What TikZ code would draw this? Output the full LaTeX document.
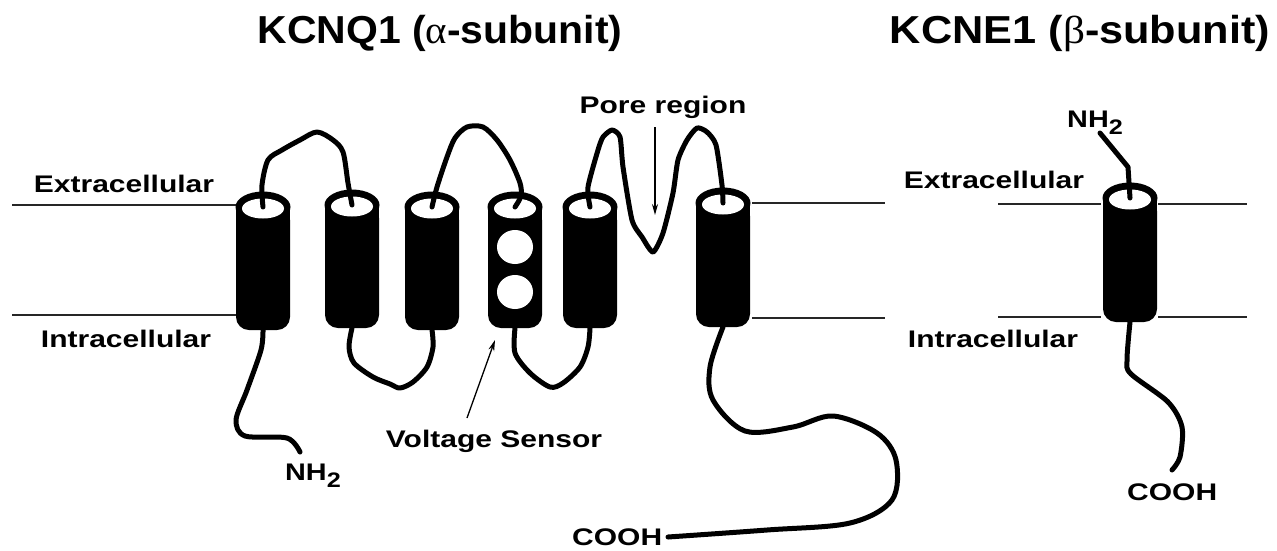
\documentclass[tikz,border=0pt]{standalone}
\usepackage{fontspec}
\setmainfont{Liberation Sans}
\newfontfamily\grk{Liberation Serif}
\usetikzlibrary{arrows.meta}
\newcommand\sx[2]{\scalebox{#1}[1]{#2}}
\newcommand\hlx[4]{%
  \fill[black,rounded corners=13pt] (#2-27,#3) rectangle (#2+27,#4);
  \fill[black] (#2-27,#3) rectangle (#2+27,#3+20);
  \fill[black] (#2,#3) ellipse [x radius=27.5pt, y radius=15.5pt];
  \fill[white] (#2,#3+1.5) ellipse [x radius=21pt, y radius=10pt];
  \coordinate (#1t) at (#2,#3);
  \coordinate (#1b) at (#2,#4);
}
\tikzset{
  chain/.style={line width=5pt, line cap=round, line join=round},
  memb/.style={line width=2pt, draw=black!85},
  lbl/.style={inner sep=0pt, font=\bfseries\fontsize{24}{28}\selectfont},
  ttl/.style={inner sep=0pt, font=\bfseries\fontsize{39}{44}\selectfont},
  pointer/.style={line width=1.3pt, -{Stealth[length=11pt,width=6pt]}},
}
\newcommand\nhtwo{NH\raisebox{-0.3em}{\fontsize{21}{22}\selectfont 2}}
\begin{document}
\begin{tikzpicture}[x=1pt,y=-1pt]
\useasboundingbox (0,0) rectangle (1277,550);
% titles
\node[ttl, anchor=base] (t1) at (440,43) {\sx{1.05}{KCNQ1 ({\grk\mdseries α}-subunit)}};
\node[ttl, anchor=base] (t2) at (1080,43) {\sx{1.11}{KCNE1 ({\grk\mdseries β}-subunit)}};
% membranes
\draw[memb] (12,205) -- (237,205);
\draw[memb] (12,315) -- (237,315);
\draw[memb] (752,203) -- (885,203);
\draw[memb] (752,318) -- (885,318);
\draw[memb] (998,204) -- (1101,204);
\draw[memb] (1158,204) -- (1247,204);
\draw[memb] (998,317) -- (1101,317);
\draw[memb] (1158,317) -- (1247,317);
% helices
\hlx{h1}{263}{207}{330}
\hlx{h2}{352}{205}{328}
\hlx{h3}{432}{207}{330}
\hlx{h4}{515}{207}{328}
\hlx{h5}{590}{207}{328}
\hlx{h6}{723}{203}{327}
\hlx{e1}{1130}{198}{322}
% voltage sensor charges
\fill[white] (515,247) ellipse [x radius=18pt, y radius=17pt];
\fill[white] (515,292) ellipse [x radius=18pt, y radius=17pt];
% extracellular loops
\draw[chain] plot[smooth, tension=0.5] coordinates {(h1t) (262,185) (268,160) (282,150) (300,140) (317,132) (333,140) (343,152) (348,183) (h2t)};
\draw[chain] plot[smooth, tension=0.5] coordinates {(h3t) (437,187) (447,157) (455,138) (467,127) (483,127) (497,140) (510,160) (520,183) (521,196) (h4t)};
\draw[chain] plot[smooth, tension=0.4] coordinates {(h5t) (588,187) (598,150) (603,137) (612,130) (620,137) (623,167) (632,220) (642,237) (653,252) (663,233) (673,193) (678,160) (687,140) (697,128) (707,132) (716,145) (722,185) (h6t)};
% intracellular loops
\draw[chain] plot[smooth, tension=0.5] coordinates {(h2b) (349,347) (354,363) (373,377) (390,384) (400,388) (413,382) (427,367) (433,347) (h3b)};
\draw[chain] plot[smooth, tension=0.5] coordinates {(h4b) (515,353) (530,373) (550,387) (563,383) (580,367) (588,347) (h5b)};
% termini
\coordinate (nq) at (300,452);
\coordinate (cq) at (668,537);
\draw[chain] plot[smooth, tension=0.5] coordinates {(h1b) (261,350) (247,390) (236,420) (245,436) (287,438) (nq)};
\draw[chain] plot[smooth, tension=0.55] coordinates {(h6b) (710,367) (713,400) (745,431) (793,427) (833,416) (877,433) (896,460) (892,500) (850,523) (767,530) (cq)};
\coordinate (ne) at (1100,133);
\coordinate (ce) at (1172,470);
\draw[chain] (ne) -- (1128,167) -- (e1t);
\draw[chain] plot[smooth, tension=0.5] coordinates {(e1b) (1127,360) (1131,374) (1168,402) (1182,427) (1180,457) (ce)};
% labels
\node[lbl, anchor=base] (ex1) at (124,192) {\sx{1.25}{Extracellular}};
\node[lbl, anchor=base] (in1) at (126,347) {\sx{1.25}{Intracellular}};
\node[lbl, anchor=base] (ex2) at (994,188) {\sx{1.25}{Extracellular}};
\node[lbl, anchor=base] (in2) at (993,347) {\sx{1.25}{Intracellular}};
\node[lbl, anchor=base] (pore) at (663,113) {\sx{1.25}{Pore region}};
\node[lbl, anchor=base] (vs) at (494,447) {\sx{1.25}{Voltage Sensor}};
\node[lbl, anchor=base west] (n1) at (285,480) {\sx{1.2}{\nhtwo}};
\node[lbl, anchor=base west] (n2) at (1067,127) {\sx{1.2}{\nhtwo}};
\node[lbl, anchor=base west] (c1) at (572,545) {\sx{1.25}{COOH}};
\node[lbl, anchor=base west] (c2) at (1127,500) {\sx{1.25}{COOH}};
% pointers
\coordinate (poretip) at (655,215);
\coordinate (vstip) at (495,340);
\draw[pointer] (655,127) -- (poretip);
\draw[pointer] (467,418) -- (vstip);
\end{tikzpicture}
\end{document}
